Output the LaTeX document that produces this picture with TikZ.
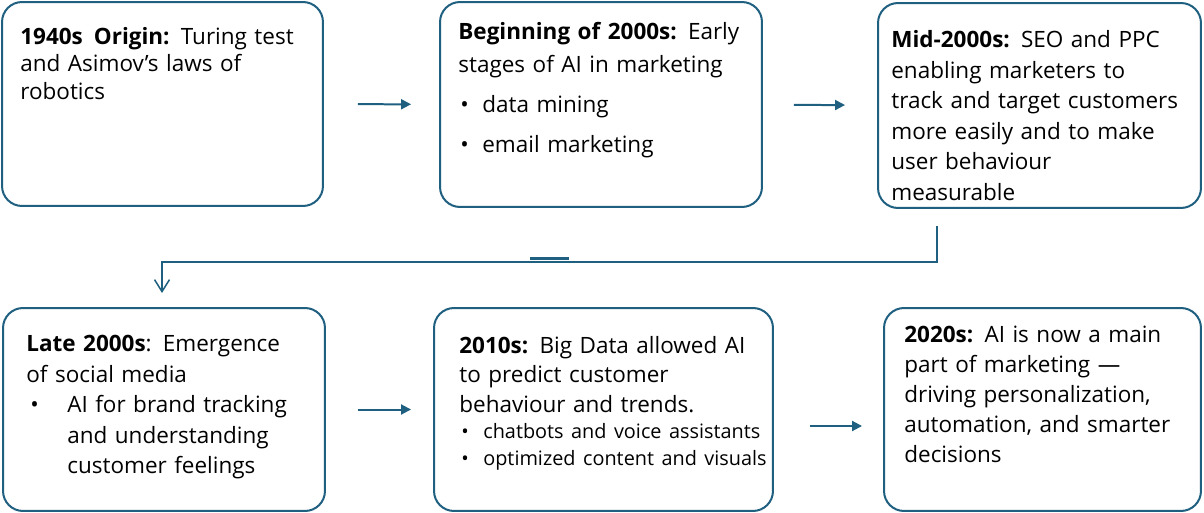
\documentclass[tikz,border=0pt]{standalone}
\usepackage{fontspec}
\setmainfont{Open Sans}
\usepackage{xcolor}
\usepackage{tikz}
\usetikzlibrary{arrows.meta, positioning, calc}

\definecolor{edgeblue}{RGB}{31,95,128}
\newcommand{\bul}[1][0.44cm]{\makebox[#1][l]{\textbullet}}

\begin{document}
\begin{tikzpicture}[
  x=0.02cm, y=-0.02cm,
  stage/.style={rectangle, draw=edgeblue, line width=0.04cm, rounded corners=0.4cm, inner sep=0pt, outer sep=0pt},
  desc/.style={anchor=north west, inner sep=0pt, text width=7cm, align=left, font=\fontsize{12.8}{17}\selectfont},
  arrow/.style={draw=edgeblue, line width=0.04cm, -{Triangle[length=0.2cm,width=0.2cm]}},
  link/.style={draw=edgeblue, line width=0.03cm, -{Straight Barb[length=0.24cm,width=0.3cm]}}
]

\useasboundingbox (0,0) rectangle (1204,513);

\node (origin) [stage, minimum width=6.42cm, minimum height=4.08cm] at (162.5,104) {};
\node (early) [stage, minimum width=6.44cm, minimum height=4.1cm] at (601,104.5) {};
\node (seo) [stage, minimum width=6.46cm, minimum height=4.1cm] at (1039.5,105.5) {};
\node (social) [stage, minimum width=6.44cm, minimum height=4.06cm] at (164,409.5) {};
\node (bigdata) [stage, minimum width=6.78cm, minimum height=4.06cm] at (603.5,409.5) {};
\node (now) [stage, minimum width=6.34cm, minimum height=4.06cm] at (1042.5,409.5) {};

\node (origin-txt) [desc, font=\fontsize{12.8}{15.6}\selectfont] at (20,27) {\textbf{1940s\hspace{2pt} Origin:} Turing test\\and Asimov’s laws of\\robotics};
\node (early-txt) [desc] at (458,22) {\textbf{Beginning of 2000s:} Early\\[0.06cm]stages of AI in marketing\\[0.2cm]\hspace*{0.04cm}\bul data mining\\[0.2cm]\hspace*{0.04cm}\bul email marketing};
\node (seo-txt) [desc, font=\fontsize{12.8}{17.4}\selectfont] at (891,30) {\textbf{Mid-2000s:} SEO and PPC\\enabling marketers to\\track and target customers\\more easily and to make\\user behaviour\\measurable};
\node (social-txt) [desc, font=\fontsize{12.8}{17.4}\selectfont] at (26,335) {\textbf{Late 2000s}: Emergence\\of social media\\\hspace*{0.08cm}\bul[0.74cm]AI for brand tracking\\\hspace*{0.82cm}and understanding\\\hspace*{0.82cm}customer feelings};
\node (bigdata-txt) [desc, font=\fontsize{12.8}{16.7}\selectfont] at (459,336) {\textbf{2010s:} Big Data allowed AI\\to predict customer\\behaviour and trends.\\[-0.06cm]{\fontsize{11.3}{13}\selectfont\hspace*{0.04cm}\bul chatbots and voice assistants}\\[-0.05cm]{\fontsize{11.3}{13}\selectfont\hspace*{0.04cm}\bul optimized content and visuals}};
\node (now-txt) [desc] at (904,326) {\textbf{2020s:} AI is now a main\\part of marketing —\\driving personalization,\\automation, and smarter\\decisions};

\draw [arrow, shorten <=0.7cm, shorten >=0.58cm] (origin) -- (early);
\draw [arrow, shorten <=0.64cm, shorten >=0.66cm] (early) -- (seo);
\draw [arrow, shorten <=0.66cm, shorten >=0.46cm] (social) -- (bigdata);
\draw [arrow, shorten <=0.74cm, shorten >=0.44cm] ([yshift=-0.33cm]bigdata.east) -- ([yshift=-0.33cm]now.west);

\coordinate (bend) at (550,262);
\draw [link, shorten <=0.36cm, shorten >=0.3cm] ([xshift=-2.05cm]seo.south) |- (bend) -| ([xshift=-0.04cm]social.north);
\draw [edgeblue, line width=0.06cm] (530,258.5) -- (569,258.5);

\end{tikzpicture}
\end{document}
